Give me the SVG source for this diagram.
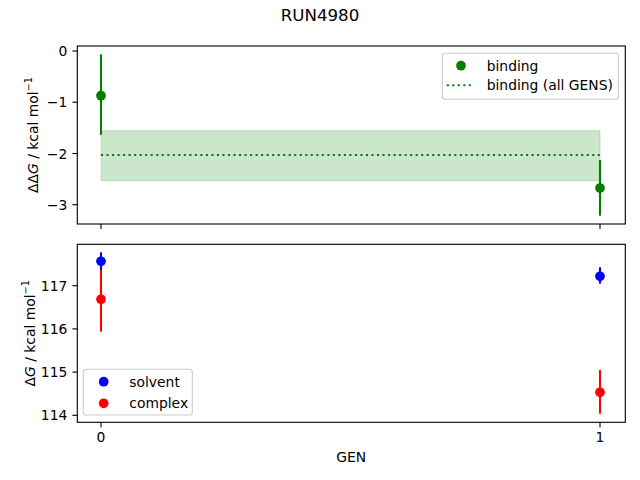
<svg xmlns="http://www.w3.org/2000/svg" width="640" height="480" viewBox="0 0 640 480">
<style>
text{font-family:"DejaVu Sans","Liberation Sans",sans-serif;fill:#000;}
.t{font-size:13.89px;}
.yt{text-anchor:end;}
.xt{text-anchor:middle;}
.spine{fill:none;stroke:#000;stroke-width:1.11;}
.tick{stroke:#000;stroke-width:1.11;}
.eg{stroke:#008000;stroke-width:2.08;}
.eb{stroke:#0000ff;stroke-width:2.08;}
.er{stroke:#ff0000;stroke-width:2.08;}
.leg{fill:#fff;fill-opacity:0.8;stroke:#cccccc;stroke-width:1.11;}
</style>
<rect width="640" height="480" fill="#fff"/>
<text x="320" y="21" font-size="16.67" text-anchor="middle">RUN4980</text>

<g id="top-axes">
  <rect x="101" y="130.7" width="499" height="50" fill="#008000" fill-opacity="0.2" stroke="#008000" stroke-opacity="0.2" stroke-width="1"/>
  <line x1="101" y1="155" x2="600" y2="155" stroke="#008000" stroke-width="2.08" stroke-dasharray="2.08 3.44"/>
  <g id="top-data">
    <line class="eg" x1="101" y1="54.3" x2="101" y2="134.7"/>
    <circle cx="101" cy="95.7" r="4.85" fill="#008000"/>
    <line class="eg" x1="600" y1="160" x2="600" y2="215.7"/>
    <circle cx="600" cy="188" r="4.85" fill="#008000"/>
  </g>
  <rect class="spine" x="77.3" y="46" width="548" height="178"/>
  <g id="top-ticks">
    <line class="tick" x1="72.4" y1="51" x2="77.3" y2="51"/>
    <line class="tick" x1="72.4" y1="102.2" x2="77.3" y2="102.2"/>
    <line class="tick" x1="72.4" y1="153.5" x2="77.3" y2="153.5"/>
    <line class="tick" x1="72.4" y1="204.7" x2="77.3" y2="204.7"/>
    <line class="tick" x1="101" y1="224" x2="101" y2="228.9"/>
    <line class="tick" x1="600" y1="224" x2="600" y2="228.9"/>
    <text class="t yt" x="67.3" y="56">0</text>
    <text class="t yt" x="67.3" y="107.2">−1</text>
    <text class="t yt" x="67.3" y="158.5">−2</text>
    <text class="t yt" x="67.3" y="209.7">−3</text>
  </g>
  <text class="t" text-anchor="middle" transform="translate(37.5,135) rotate(-90)">ΔΔ<tspan font-style="italic">G</tspan> / kcal mol<tspan font-size="9.7" dy="-5.5">−1</tspan></text>
  <g id="top-legend">
    <rect class="leg" x="442.3" y="53.3" width="176" height="46" rx="2.8"/>
    <circle cx="461" cy="65.7" r="4.85" fill="#008000"/>
    <line x1="446.7" y1="85.3" x2="474.3" y2="85.3" stroke="#008000" stroke-width="2.08" stroke-dasharray="2.08 3.44"/>
    <text class="t" x="486.7" y="70.7">binding</text>
    <text class="t" x="486.7" y="90.3">binding (all GENS)</text>
  </g>
</g>

<g id="bottom-axes">
  <g id="bottom-data">
    <line class="er" x1="101" y1="267" x2="101" y2="331.7"/>
    <line class="eb" x1="101" y1="252.3" x2="101" y2="270"/>
    <circle cx="101" cy="261.3" r="4.85" fill="#0000ff"/>
    <circle cx="101" cy="299.3" r="4.85" fill="#ff0000"/>
    <line class="eb" x1="600" y1="267.3" x2="600" y2="283.7"/>
    <circle cx="600" cy="276.3" r="4.85" fill="#0000ff"/>
    <line class="er" x1="600" y1="370" x2="600" y2="413.7"/>
    <circle cx="600" cy="392.3" r="4.85" fill="#ff0000"/>
  </g>
  <rect class="spine" x="77.3" y="244.3" width="548" height="178"/>
  <g id="bottom-ticks">
    <line class="tick" x1="72.4" y1="285.7" x2="77.3" y2="285.7"/>
    <line class="tick" x1="72.4" y1="328.9" x2="77.3" y2="328.9"/>
    <line class="tick" x1="72.4" y1="372.1" x2="77.3" y2="372.1"/>
    <line class="tick" x1="72.4" y1="415.3" x2="77.3" y2="415.3"/>
    <line class="tick" x1="101" y1="422.3" x2="101" y2="427.2"/>
    <line class="tick" x1="600" y1="422.3" x2="600" y2="427.2"/>
    <text class="t yt" x="67.3" y="290.7">117</text>
    <text class="t yt" x="67.3" y="333.9">116</text>
    <text class="t yt" x="67.3" y="377.1">115</text>
    <text class="t yt" x="67.3" y="420.3">114</text>
    <text class="t xt" x="101" y="442.1">0</text>
    <text class="t xt" x="600" y="442.1">1</text>
  </g>
  <text class="t" text-anchor="middle" transform="translate(34.5,333.3) rotate(-90)">Δ<tspan font-style="italic">G</tspan> / kcal mol<tspan font-size="9.7" dy="-5.5">−1</tspan></text>
  <text class="t" x="351.3" y="461.7" text-anchor="middle">GEN</text>
  <g id="bottom-legend">
    <rect class="leg" x="83.3" y="369.3" width="109" height="45.7" rx="2.8"/>
    <circle cx="103.7" cy="381.7" r="4.85" fill="#0000ff"/>
    <circle cx="103.7" cy="403.3" r="4.85" fill="#ff0000"/>
    <text class="t" x="129.3" y="386.7">solvent</text>
    <text class="t" x="129.3" y="408.3">complex</text>
  </g>
</g>
</svg>
